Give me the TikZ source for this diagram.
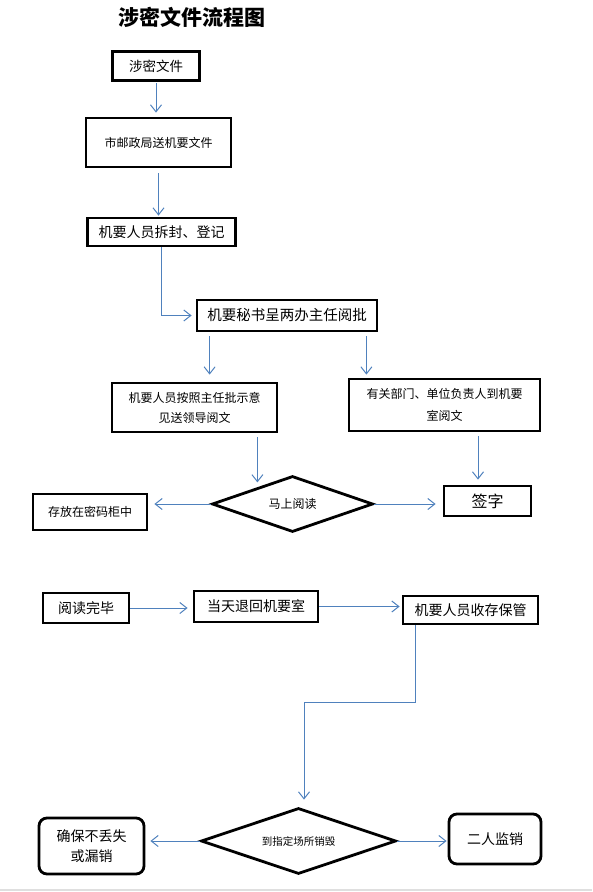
\documentclass[tikz,border=0pt]{standalone}
\usepackage{fontspec}
\newfontfamily\cjk{Noto Sans CJK SC}
\usetikzlibrary{shapes.geometric,arrows.meta}
\definecolor{arrblue}{RGB}{79,129,189}
\begin{document}
\begin{tikzpicture}[x=1pt,y=-1pt,
  box/.style={draw,line width=2.8pt,inner sep=0pt,align=center,font=\cjk\fontsize{12}{20}\selectfont},
  rbox/.style={box,rounded corners=8pt},
  dia/.style={draw,diamond,line width=2.8pt,inner sep=0pt,font=\cjk\fontsize{10.5}{12}\selectfont},
  arr/.style={draw=arrblue,line width=1pt,-{Straight Barb[length=7pt,width=11pt]}}]
\useasboundingbox (0,0) rectangle (592,892);
\node[font=\cjk\bfseries\fontsize{21}{24}\selectfont] (title) at (192,17) {涉密文件流程图};

\node[box,line width=3.3pt,minimum width=87,minimum height=29,font=\cjk\fontsize{13.5}{16}\selectfont] (b1) at (156,66) {涉密文件};
\node[box,minimum width=145,minimum height=49] (b2) at (158.5,142.5) {市邮政局送机要文件};
\node[box,minimum width=148,minimum height=28,font=\cjk\fontsize{14}{16}\selectfont] (b3) at (161.5,232) {机要人员拆封、登记};
\node[box,minimum width=180,minimum height=31,font=\cjk\fontsize{14.5}{16}\selectfont] (b4) at (287,315.5) {机要秘书呈两办主任阅批};
\node[box,minimum width=165,minimum height=49] (b5) at (194.5,407.5) {机要人员按照主任批示意\\见送领导阅文};
\node[box,minimum width=191,minimum height=52,font=\cjk\fontsize{12}{22}\selectfont] (b6) at (444.5,405) {有关部门、单位负责人到机要\\室阅文};
\node[dia,aspect=2.8,minimum width=161,minimum height=56,font=\cjk\fontsize{12}{14}\selectfont] (d1) at (292.5,504) {马上阅读};
\node[box,minimum width=114,minimum height=36] (b7) at (90,512) {存放在密码柜中};
\node[box,minimum width=87,minimum height=30,font=\cjk\fontsize{16}{18}\selectfont] (b8) at (487.5,501) {签字};

\node[box,minimum width=86,minimum height=30,font=\cjk\fontsize{14}{16}\selectfont] (b9) at (86,608) {阅读完毕};
\node[box,minimum width=124,minimum height=31,font=\cjk\fontsize{14}{16}\selectfont] (b10) at (256,606.5) {当天退回机要室};
\node[box,minimum width=135,minimum height=28,font=\cjk\fontsize{14}{16}\selectfont] (b11) at (470.5,610) {机要人员收存保管};

\node[dia,aspect=2.9,minimum width=195,minimum height=66] (d2) at (298.5,841) {到指定场所销毁};
\node[rbox,minimum width=105,minimum height=56,font=\cjk\fontsize{14}{20}\selectfont] (b12) at (91.5,846) {确保不丢失\\或漏销};
\node[rbox,minimum width=92,minimum height=50,font=\cjk\fontsize{14}{16}\selectfont] (b13) at (495,839) {二人监销};

\draw[arr,shorten <=1pt,shorten >=4pt] (b1.south) -- (b1.south |- b2.north);
\draw[arr,shorten <=5pt,shorten >=1pt] (b2.south) -- (b2.south |- b3.north);
\draw[arr,shorten >=4pt] (b3.south) |- (b4.west);
\draw[arr,shorten <=4pt,shorten >=7pt] ([xshift=14pt]b4.south west) -- ([xshift=14pt]b4.south west |- b5.north);
\draw[arr,shorten <=4pt,shorten >=3pt] ([xshift=-12pt]b4.south east) -- ([xshift=-12pt]b4.south east |- b6.north);
\draw[arr,shorten <=4pt] ([xshift=-21pt]b5.south east) -- ++(0,49);
\draw[arr,shorten <=4pt,shorten >=5pt] ([xshift=-9.5pt]b8.north |- b6.south) -- ([xshift=-9.5pt]b8.north);
\draw[arr,shorten >=6pt] (d1.west) -- (d1.west -| b7.east);
\draw[arr,shorten >=7pt] (d1.east) -- (d1.east -| b8.west);

\draw[arr,shorten >=5pt] (b9.east) -- (b9.east -| b10.west);
\draw[arr,shorten >=2pt] (b10.east) -- (b10.east -| b11.west);
\draw[arr,shorten >=7pt] ([xshift=14pt]b11.south west) -- ++(0,77) -| ([xshift=5.5pt]d2.north);

\draw[arr,shorten >=5pt] (d2.west) -- (d2.west -| b12.east);
\draw[arr,shorten >=1pt] (d2.east) -- (d2.east -| b13.west);

\draw[gray!25,line width=2pt] (0,890) -- (592,890);
\end{tikzpicture}
\end{document}
